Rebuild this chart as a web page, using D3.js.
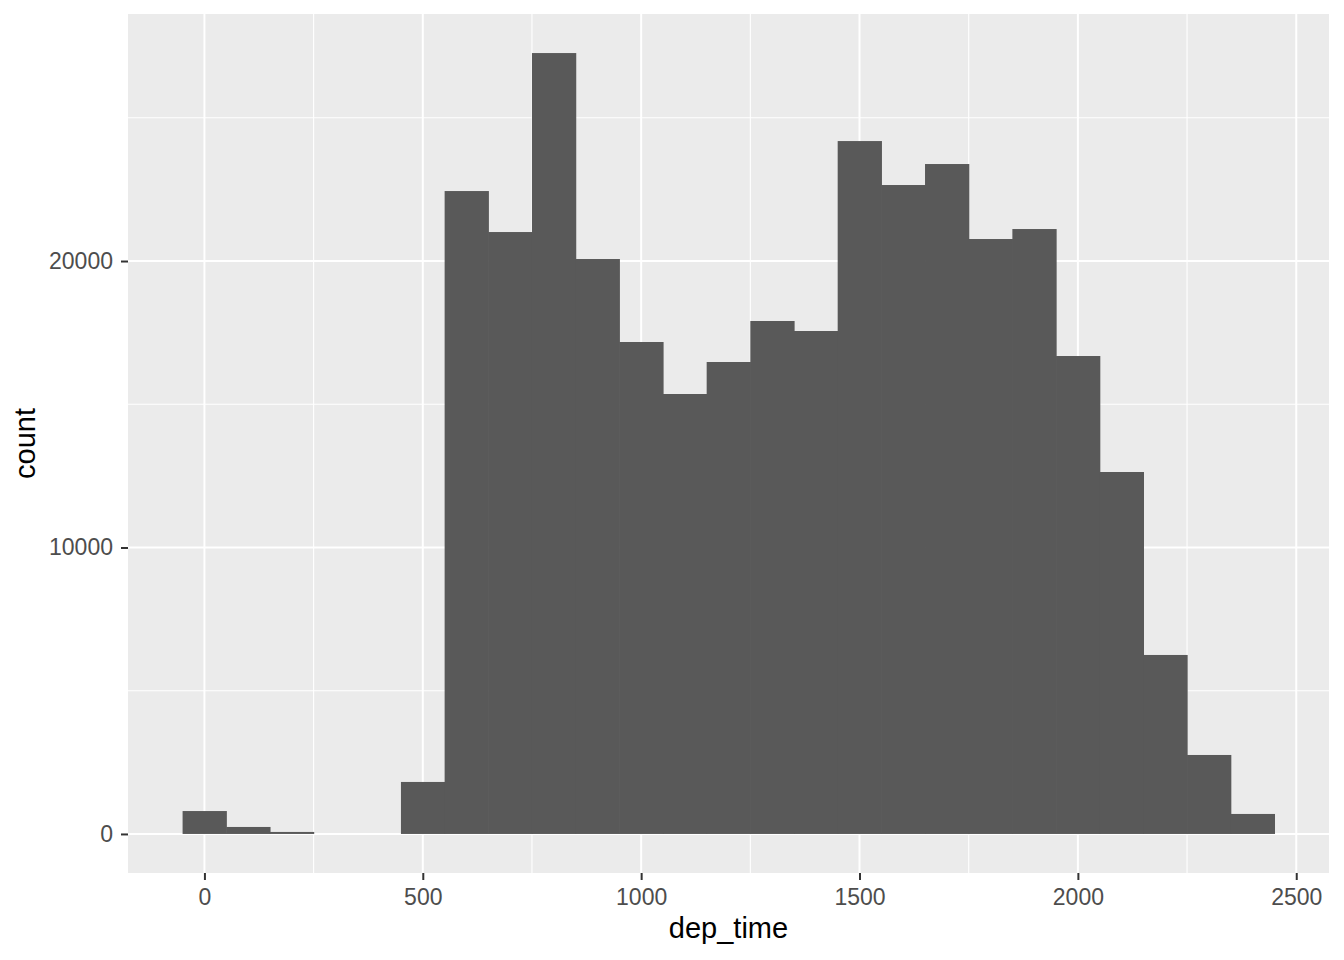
<!DOCTYPE html>
<html>
<head>
<meta charset="utf-8">
<script src="https://cdn.jsdelivr.net/npm/d3@7"></script>
<style>
html,body{margin:0;padding:0;background:#fff;}
svg{display:block;font-family:"Liberation Sans",Arial,sans-serif;}
</style>
</head>
<body>
<svg id="chart" width="1344" height="960"></svg>
<script>
// Histogram bins (binwidth 100, centred on multiples of 100)
const binStarts = [-50, 50, 150, 250, 350, 450, 550, 650, 750, 850, 950, 1050, 1150, 1250, 1350, 1450, 1550, 1650, 1750, 1850, 1950, 2050, 2150, 2250, 2350];
const binWidth = 100;
const counts = [800, 244, 70, 0, 0, 1815, 22443, 21012, 27260, 20070, 17173, 15358, 16475, 17906, 17557, 24188, 22653, 23386, 20768, 21117, 16684, 12635, 6248, 2757, 698];
const xTicks = [0, 500, 1000, 1500, 2000, 2500];
const xMinor = [250, 750, 1250, 1750, 2250];
const yTicks = [0, 10000, 20000];
const yMinor = [5000, 15000, 25000];
const xTitle = "dep_time";
const yTitle = "count";

const svg = d3.select("#chart");
const L = 128, R = 1329, T = 14, B = 873;

const xMin = d3.min(binStarts), xMax = d3.max(binStarts) + binWidth;
const xPad = (xMax - xMin) * 0.05;
const x = d3.scaleLinear().domain([xMin - xPad, xMax + xPad]).range([L, R]);
const yMaxV = d3.max(counts);
const yPad = yMaxV * 0.05;
const y = d3.scaleLinear().domain([-yPad, yMaxV + yPad]).range([B, T]);

svg.append("rect").attr("x", L).attr("y", T).attr("width", R - L).attr("height", B - T).attr("fill", "#EBEBEB");

const g = svg.append("g");
// minor grid
g.selectAll(".xmin").data(xMinor).enter().append("line")
  .attr("x1", d => x(d)).attr("x2", d => x(d)).attr("y1", T).attr("y2", B)
  .attr("stroke", "#fff").attr("stroke-width", 1.1);
g.selectAll(".ymin").data(yMinor).enter().append("line")
  .attr("y1", d => y(d)).attr("y2", d => y(d)).attr("x1", L).attr("x2", R)
  .attr("stroke", "#fff").attr("stroke-width", 1.1);
// major grid
g.selectAll(".xmaj").data(xTicks).enter().append("line")
  .attr("x1", d => x(d)).attr("x2", d => x(d)).attr("y1", T).attr("y2", B)
  .attr("stroke", "#fff").attr("stroke-width", 2);
g.selectAll(".ymaj").data(yTicks).enter().append("line")
  .attr("y1", d => y(d)).attr("y2", d => y(d)).attr("x1", L).attr("x2", R)
  .attr("stroke", "#fff").attr("stroke-width", 2);

// bars
g.selectAll(".bar").data(binStarts.map((s, i) => ({s, c: counts[i]})).filter(d => d.c > 0))
  .enter().append("rect")
  .attr("x", d => x(d.s)).attr("width", d => x(d.s + binWidth) - x(d.s) + 0.6)
  .attr("y", d => y(d.c)).attr("height", d => y(0) - y(d.c))
  .attr("fill", "#595959");

// axes
const xAxis = d3.axisBottom(x).tickValues(xTicks).tickSize(7).tickPadding(8.5).tickFormat(d3.format("d"));
const xa = svg.append("g").attr("transform", `translate(0,${B})`).call(xAxis);
const yAxis = d3.axisLeft(y).tickValues(yTicks).tickSize(7).tickPadding(8).tickFormat(d3.format("d"));
const ya = svg.append("g").attr("transform", `translate(${L},0)`).call(yAxis);
[xa, ya].forEach(a => {
  a.select(".domain").remove();
  a.selectAll(".tick line").attr("stroke", "#333333").attr("stroke-width", 2);
  a.selectAll(".tick text").attr("fill", "#4D4D4D").style("font-size", "23px")
    .style("font-family", '"Liberation Sans", Arial, sans-serif');
});

svg.append("text").attr("x", (L + R) / 2).attr("y", 938).attr("text-anchor", "middle")
  .style("font-size", "29px").attr("fill", "#000").text(xTitle);
svg.append("text").attr("transform", `translate(35,${(T + B) / 2}) rotate(-90)`).attr("text-anchor", "middle")
  .style("font-size", "29px").attr("fill", "#000").text(yTitle);
</script>
</body>
</html>
